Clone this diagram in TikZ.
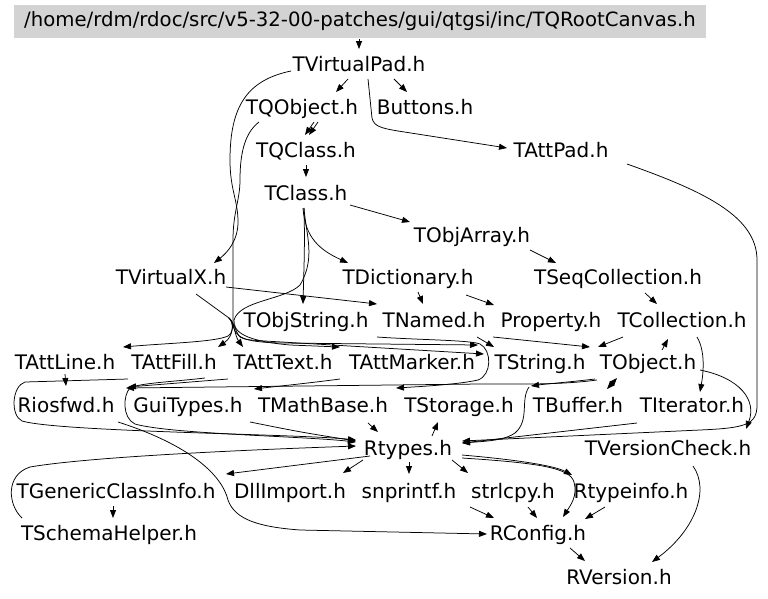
\documentclass[tikz,border=0pt]{standalone}
\usepackage{fontspec}
\setmainfont{DejaVu Sans}
\usetikzlibrary{arrows.meta,calc}
\definecolor{rootgray}{RGB}{211,211,211}
\begin{document}
\begin{tikzpicture}[x=1pt,y=-1pt,
  fn/.style={inner sep=0pt,outer sep=0pt,text height=15pt,text depth=5pt,font=\fontsize{20pt}{24pt}\selectfont},
  lnk/.style={line width=0.75pt,-{Triangle[length=8pt,width=6pt]}},
  dlnk/.style={line width=0.75pt,{Triangle[length=8pt,width=6pt]}-{Triangle[length=8pt,width=6pt]}}]
\useasboundingbox (0,0) rectangle (768,598);
\fill[white] (0,0) rectangle (768,598);
% nodes
\node[fill=rootgray,inner sep=0pt,minimum width=692pt,minimum height=33pt,font=\fontsize{19.7pt}{24pt}\selectfont] (root) at (360,21.5) {/home/rdm/rdoc/src/v5-32-00-patches/gui/qtgsi/inc/TQRootCanvas.h};
\node[fn] (TVP) at (359,66) {TVirtualPad.h};
\node[fn] (TQO) at (302,109) {TQObject.h};
\node[fn] (BUT) at (425,109) {Buttons.h};
\node[fn] (TQC) at (306,152) {TQClass.h};
\node[fn] (TAP) at (561,152) {TAttPad.h};
\node[fn] (TCL) at (306,195) {TClass.h};
\node[fn] (TOA) at (472,237) {TObjArray.h};
\node[fn] (TVX) at (171,279) {TVirtualX.h};
\node[fn] (TDI) at (408,279) {TDictionary.h};
\node[fn] (TSC) at (618,279) {TSeqCollection.h};
\node[fn] (TOS) at (306,322) {TObjString.h};
\node[fn] (TNA) at (434,322) {TNamed.h};
\node[fn] (PRO) at (551,322) {Property.h};
\node[fn] (TCO) at (682,322) {TCollection.h};
\node[fn] (TAL) at (65,364) {TAttLine.h};
\node[fn] (TAF) at (174,364) {TAttFill.h};
\node[fn] (TAT) at (283,364) {TAttText.h};
\node[fn] (TAM) at (412,364) {TAttMarker.h};
\node[fn] (TST) at (540,364) {TString.h};
\node[fn] (TOB) at (648,364) {TObject.h};
\node[fn] (RIO) at (66,407) {Riosfwd.h};
\node[fn] (GUI) at (188,407) {GuiTypes.h};
\node[fn] (TMB) at (323,407) {TMathBase.h};
\node[fn] (TSTO) at (459,407) {TStorage.h};
\node[fn] (TBU) at (578,407) {TBuffer.h};
\node[fn] (TIT) at (692,407) {TIterator.h};
\node[fn] (RTY) at (408,450) {Rtypes.h};
\node[fn] (TVC) at (668,450) {TVersionCheck.h};
\node[fn] (TGC) at (116,493) {TGenericClassInfo.h};
\node[fn] (DLL) at (290,493) {DllImport.h};
\node[fn] (SNP) at (409,493) {snprintf.h};
\node[fn] (STR) at (513,493) {strlcpy.h};
\node[fn] (RTI) at (631,493) {Rtypeinfo.h};
\node[fn] (TSH) at (109,535) {TSchemaHelper.h};
\node[fn] (RCO) at (538,535) {RConfig.h};
\node[fn] (RVE) at (619,579) {RVersion.h};
\coordinate (vxfan) at (229,318);
% edges
\draw[lnk] ($(root)+(-1,17.5)$) -- ($(TVP)+(0,-17)$);
\draw[lnk] ($(TVP)+(-11,13)$) -- ($(TQO)+(34,-17)$);
\draw[lnk] ($(TVP)+(35,13)$) -- ($(BUT)+(-18,-17)$);
\draw[lnk] ($(TVP)+(9,13)$) -- (372,118) .. controls (374,126) and (380,128) .. (398,131) -- ($(TAP)+(-54,-4)$);
\draw[lnk] ($(TVP)+(-68,5)$) .. controls (248,80) and (230,105) .. (230,160) .. controls (230,190) and (238,200) .. (238,222) .. controls (238,240) and (228,252) .. ($(TVX)+(43,-16)$);
\draw[lnk] ($(TQO)+(16,13)$) -- ($(TQC)+(3,-17)$);
\draw[lnk] ($(TQO)+(12,13)$) -- ($(TQC)+(-1,-17)$);
\draw[lnk] ($(TQO)+(-43,13)$) .. controls (246,132) and (240,150) .. (240,180) .. controls (240,200) and (233,212) .. (233,240) -- (233,322) .. controls (233,338) and (245,342) .. (280,343) -- ($(TST)+(-62,-19)$);
\draw[lnk] ($(TQC)+(0,13)$) -- ($(TCL)+(0,-18)$);
\draw[lnk] ($(TCL)+(44,10)$) -- ($(TOA)+(-62,-15)$);
\draw[lnk] ($(TCL)+(-3,13)$) .. controls (305,238) and (320,250) .. ($(TDI)+(-60,-16)$);
\draw[lnk] ($(TCL)+(-2,13)$) .. controls (305,245) and (304,265) .. ($(TOS)+(-3,-18)$);
\draw[lnk] ($(TCL)+(-2,13)$) .. controls (306,235) and (316,258) .. (300,285) .. controls (285,300) and (240,300) .. (234,320) .. controls (233,332) and (245,341) .. (290,345) -- ($(TAM)+(-72,-17)$);
\draw[lnk] ($(TOA)+(58,13)$) -- ($(TSC)+(-62,-16)$);
\draw[lnk] ($(TVX)+(55,8)$) -- ($(TNA)+(-57,-18)$);
\draw[lnk] ($(TVX)+(25,15)$) -- (vxfan) .. controls (234,322) and (234,332) .. (228,336) .. controls (215,342) and (170,343) .. ($(TAL)+(58,-17)$);
\draw[lnk] (vxfan) .. controls (234,322) and (234,336) .. ($(TAF)+(44,-17)$);
\draw[lnk] (vxfan) .. controls (234,322) and (235,336) .. ($(TAT)+(-40,-17)$);
\draw[lnk] (vxfan) .. controls (234,322) and (236,333) .. (240,337) .. controls (245,340) and (250,340) .. (265,341) -- ($(TST)+(-56,-10)$);
\draw[lnk] ($(TDI)+(10,13)$) -- ($(TNA)+(-11,-18)$);
\draw[lnk] ($(TDI)+(58,16)$) -- ($(PRO)+(-57,-17)$);
\draw[lnk] ($(TSC)+(27,14)$) -- ($(TCO)+(-25,-18)$);
\draw[lnk] ($(TNA)+(59,15)$) -- ($(TOB)+(-58,-17)$);
\draw[lnk] ($(TNA)+(43,15)$) -- ($(TST)+(-46,-17)$);
\draw[lnk] ($(TCO)+(-59,15)$) -- ($(TOB)+(-50,-17)$);
\draw[lnk] ($(TCO)+(15,15)$) .. controls (706,352) and (703,375) .. ($(TIT)+(8,-15)$);
\draw[lnk] ($(TOB)+(14,-14)$) -- ($(TCO)+(-14,17)$);
\draw[dlnk] ($(TOB)+(-31,14)$) -- ($(TBU)+(29,-18)$);
\draw[lnk] ($(TOB)+(52,6)$) .. controls (740,378) and (757,400) .. ($(TVC)+(78,-21)$);
\draw[lnk] ($(TAP)+(66,12)$) .. controls (700,190) and (757,215) .. (757,260) -- (757,405) .. controls (757,425) and (745,428) .. (700,430) -- ($(RTY)+(54,-9)$);
\draw[lnk] ($(TIT)+(-55,16)$) -- ($(RTY)+(54,-7)$);
\draw[lnk] ($(TOB)+(-53,15)$) .. controls (570,382) and (545,384) .. ($(TST)+(-9,22)$);
\draw[lnk] ($(TST)+(-11,23)$) .. controls (520,400) and (530,420) .. (515,433) .. controls (505,440) and (490,441) .. ($(RTY)+(54,-7)$);
\draw[lnk] ($(TOB)+(-51,16)$) .. controls (560,385) and (520,384) .. (480,384) -- ($(RIO)+(60,-19)$);
\draw[lnk] ($(TNA)+(-57,15)$) .. controls (420,340) and (470,340) .. (480,344) .. controls (492,350) and (492,375) .. (478,380) .. controls (460,384) and (430,386) .. ($(TMB)+(73,-19)$);
\draw[lnk] ($(TAM)+(-72,15)$) .. controls (310,383) and (280,386) .. ($(GUI)+(66,-18)$);
\draw[lnk] ($(TAT)+(-55,15)$) -- ($(RIO)+(62,-20)$);
\draw[lnk] ($(TAF)+(31,14)$) .. controls (170,382) and (140,383) .. (130,388) .. controls (123,395) and (122,418) .. (135,424) .. controls (170,434) and (300,436) .. ($(RTY)+(-52,-8)$);
\draw[lnk] ($(TAF)+(-46,15)$) -- (25,382) .. controls (12,386) and (10,415) .. (22,421) .. controls (60,432) and (300,434) .. ($(RTY)+(-52,-10)$);
\draw[lnk] ($(TAL)+(0,10)$) -- ($(RIO)+(0,-21)$);
\draw[lnk] ($(GUI)+(62,15)$) .. controls (300,432) .. ($(RTY)+(-52,-9)$);
\draw[lnk] ($(TMB)+(45,16)$) -- ($(RTY)+(-30,-18)$);
\draw[lnk] ($(RTY)+(24,-14)$) -- ($(TSTO)+(-21,15)$);
\draw[lnk] ($(RIO)+(52,15)$) .. controls (190,445) and (222,475) .. (228,500) .. controls (235,520) and (260,527) .. (300,530) -- ($(RCO)+(-51,-1)$);
\draw[lnk] ($(RTY)+(-38,6)$) -- ($(TGC)+(110,-19)$);
\draw[lnk] ($(RTY)+(-45,10)$) -- ($(DLL)+(53,-20)$);
\draw[lnk] ($(RTY)+(1,12)$) -- ($(SNP)+(0,-19)$);
\draw[lnk] ($(RTY)+(44,10)$) -- ($(STR)+(-45,-20)$);
\draw[lnk] ($(RTY)+(54,5)$) .. controls (520,460) and (555,466) .. ($(RTI)+(-59,-18)$);
\draw[lnk] ($(RTY)+(54,8)$) .. controls (540,463) and (570,468) .. (574,482) .. controls (578,496) and (570,506) .. ($(RCO)+(25,-18)$);
\draw[lnk] ($(TGC)+(-3,13)$) -- ($(TSH)+(4,-17)$);
\draw[lnk] ($(TSH)+(-87,-17)$) .. controls (8,505) and (5,475) .. (30,467) .. controls (100,455) and (300,448) .. ($(RTY)+(-52,-4)$);
\draw[lnk] ($(SNP)+(61,14)$) -- ($(RCO)+(-44,-17)$);
\draw[lnk] ($(STR)+(15,14)$) -- ($(RCO)+(-1,-17)$);
\draw[lnk] ($(RTI)+(-26,14)$) -- ($(RCO)+(47,-16)$);
\draw[lnk] ($(RCO)+(32,13)$) -- ($(RVE)+(-34,-18)$);
\draw[lnk] ($(TVC)+(25,16)$) .. controls (710,490) and (695,530) .. ($(RVE)+(33,-17)$);
\end{tikzpicture}
\end{document}
